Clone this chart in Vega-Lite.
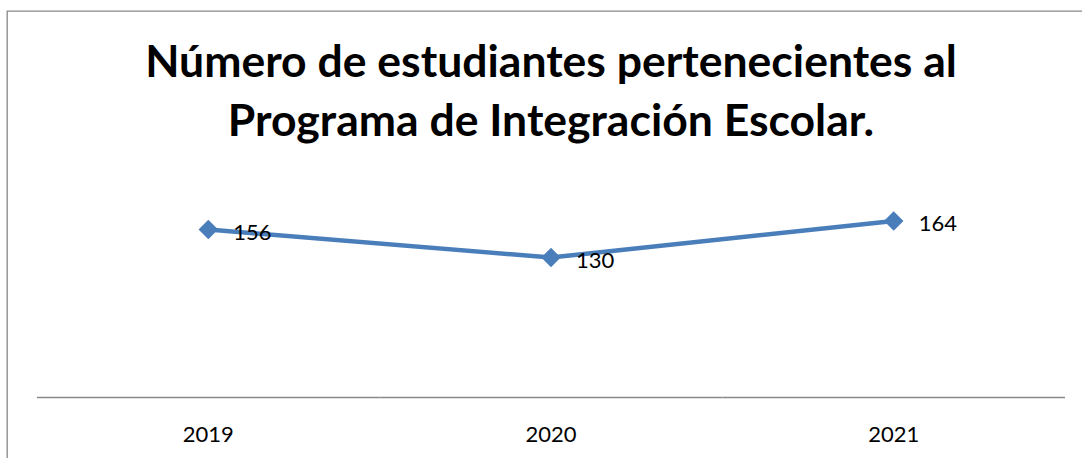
{
  "$schema": "https://vega.github.io/schema/vega-lite/v6.json",
  "autosize": {"type": "none"},
  "padding": {"left": 7, "top": 11, "right": 0, "bottom": 0},
  "width": 1088,
  "height": 448,
  "background": "white",
  "title": {
    "text": ["Número de estudiantes pertenecientes al", "Programa de Integración Escolar."],
    "font": "Lato",
    "fontSize": 44.5,
    "fontWeight": "bold",
    "color": "black",
    "lineHeight": 59,
    "baseline": "top",
    "anchor": "middle",
    "frame": "group",
    "orient": "top",
    "offset": -134
  },
  "config": {
    "view": {"stroke": "#888888", "strokeWidth": 1.3},
    "axis": {"grid": false}
  },
  "data": {
    "values": [
      {"year": "2019", "value": 156},
      {"year": "2020", "value": 130},
      {"year": "2021", "value": 164}
    ]
  },
  "encoding": {
    "x": {
      "field": "year",
      "type": "nominal",
      "sort": null,
      "scale": {"type": "band", "paddingInner": 0, "paddingOuter": 0.0875},
      "axis": {
        "orient": "bottom",
        "title": null,
        "domain": false,
        "ticks": false,
        "labelAngle": 0,
        "labelFont": "Lato",
        "labelFontSize": 22,
        "labelColor": "black",
        "labelBaseline": "alphabetic",
        "labelPadding": 0,
        "offset": -18
      }
    }
  },
  "layer": [
    {
      "mark": {"type": "bar", "color": "#888888"},
      "encoding": {
        "y": {"datum": 0.7, "type": "quantitative", "scale": {"domain": [-57.1, 358.9], "nice": false, "zero": false}, "axis": null},
        "y2": {"datum": -0.7}
      }
    },
    {
      "mark": {"type": "line", "color": "#4A7EBB", "strokeWidth": 4.5},
      "encoding": {
        "y": {"field": "value", "type": "quantitative", "axis": null}
      }
    },
    {
      "mark": {"type": "point", "shape": "diamond", "filled": true, "color": "#4A7EBB", "size": 380, "opacity": 1},
      "encoding": {
        "y": {"field": "value", "type": "quantitative", "axis": null}
      }
    },
    {
      "mark": {"type": "text", "align": "left", "baseline": "alphabetic", "dx": 25, "dy": 10, "font": "Lato", "fontSize": 22, "color": "black"},
      "encoding": {
        "y": {"field": "value", "type": "quantitative", "axis": null},
        "text": {"field": "value", "type": "quantitative"}
      }
    }
  ]
}
